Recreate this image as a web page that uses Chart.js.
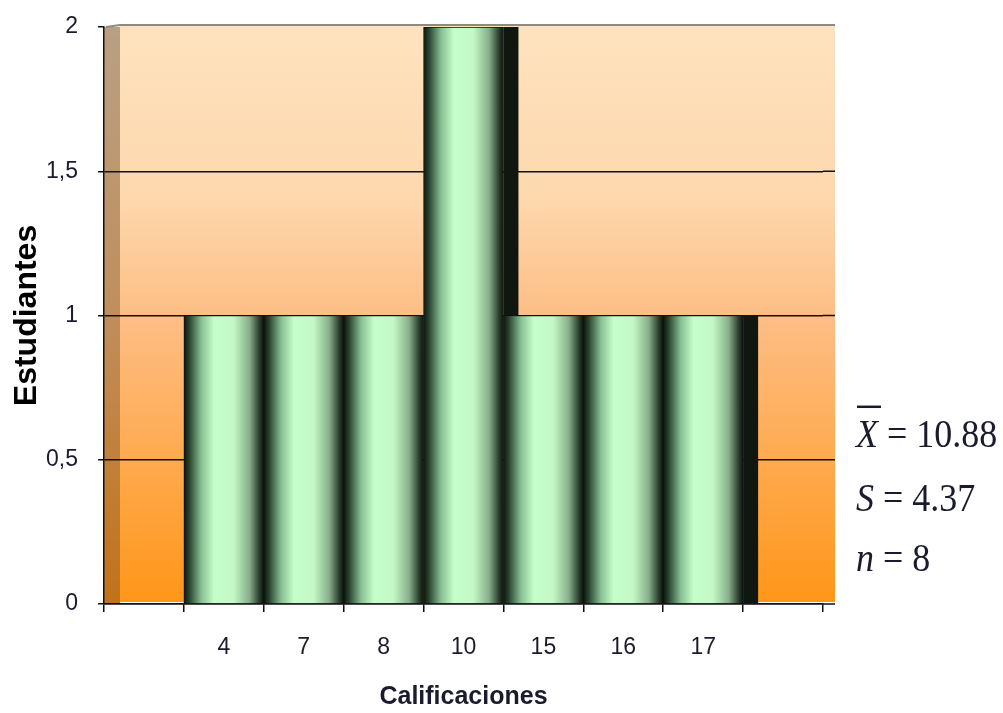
<!DOCTYPE html>
<html>
<head>
<meta charset="utf-8">
<script src="https://cdn.jsdelivr.net/npm/chart.js@4.4.1/dist/chart.umd.min.js"></script>
<style>
  html, body { margin: 0; padding: 0; background: #ffffff; }
  #wrap { width: 1003px; height: 713px; }
</style>
</head>
<body>
<div id="wrap"><canvas id="histChart" width="1003" height="713"></canvas></div>
<script>
// Calificaciones (x) y número de estudiantes (y)
const grades = ["4", "7", "8", "10", "15", "16", "17"];
const students = [1, 1, 1, 2, 1, 1, 1];
// y axis: 0 .. 2 step 0,5
const yMin = 0, yMax = 2, yStep = 0.5;
// summary stats shown at the right
const statNames = ["X", "S", "n"];
const statValues = ["10.88", "4.37", "8"];

// empty slot at each end, like the original
const labels = ["", ...grades, ""];
const values = [null, ...students, null];

const textColor = "#1b1b2e";

// back wall + side wall of the 3d plot area
const wallPlugin = {
    id: "wall",
    beforeDraw(chart) {
        const { ctx, chartArea: ca } = chart;
        if (!ca) return;
        const depth = 16;
        // back wall
        let g = ctx.createLinearGradient(0, ca.top, 0, ca.bottom);
        g.addColorStop(0, "#fee2bf");
        g.addColorStop(0.3, "#fdd8ad");
        g.addColorStop(0.5, "#fdbe86");
        g.addColorStop(1, "#ff9618");
        ctx.save();
        ctx.fillStyle = g;
        ctx.fillRect(ca.left + depth, ca.top - 2, ca.right + 12 - ca.left - depth, ca.bottom - ca.top);
        // side wall
        g = ctx.createLinearGradient(0, ca.top, 0, ca.bottom);
        g.addColorStop(0, "#b9a084");
        g.addColorStop(0.5, "#c08e5c");
        g.addColorStop(1, "#c27218");
        ctx.fillStyle = g;
        ctx.fillRect(ca.left, ca.top, depth, ca.bottom - ca.top);
        // top edge of wall
        ctx.strokeStyle = "#8d8a82";
        ctx.lineWidth = 2;
        ctx.beginPath();
        ctx.moveTo(ca.left + 2, ca.top);
        ctx.lineTo(ca.left + depth, ca.top - 2);
        ctx.lineTo(ca.right + 12, ca.top - 2);
        ctx.stroke();
        ctx.restore();
    },
    beforeDatasetsDraw(chart) {
        // grid lines continue on the back wall past the axis end
        const { ctx, chartArea: ca, scales } = chart;
        ctx.save();
        ctx.strokeStyle = "#111111";
        ctx.lineWidth = 1.5;
        scales.y.ticks.forEach(t => {
            if (t.value === yMax) return;
            const y = scales.y.getPixelForValue(t.value);
            ctx.beginPath();
            ctx.moveTo(ca.right, y);
            ctx.lineTo(ca.right + 12, y);
            ctx.stroke();
        });
        ctx.restore();
    },
    afterDatasetsDraw(chart) {
        // dark depth face on the right of a bar when the next one is lower
        const { ctx, scales } = chart;
        const meta = chart.getDatasetMeta(0);
        ctx.save();
        ctx.fillStyle = "#101710";
        meta.data.forEach((bar, i) => {
            const v = values[i];
            if (v == null) return;
            const next = values[i + 1];
            if (next != null && next >= v) return;
            const right = bar.x + bar.width / 2;
            const bottom = scales.y.getPixelForValue(next == null ? 0 : next);
            ctx.fillRect(right, bar.y, 15, bottom - bar.y);
        });
        ctx.restore();
    }
};

// mean / sd / n text block
const statsPlugin = {
    id: "stats",
    afterDraw(chart) {
        const ctx = chart.ctx;
        const x0 = 856;
        const baselines = [447, 511, 571];
        ctx.save();
        ctx.fillStyle = textColor;
        ctx.textBaseline = "alphabetic";
        statNames.forEach((name, i) => {
            ctx.save();
            ctx.translate(x0, baselines[i]);
            ctx.scale(1, 1.12);
            ctx.font = "italic 36px 'Liberation Serif', 'DejaVu Serif', serif";
            ctx.fillText(name, 0, 0);
            const w = ctx.measureText(name).width;
            ctx.font = "36px 'Liberation Serif', 'DejaVu Serif', serif";
            ctx.fillText(" = " + statValues[i], w, 0);
            if (i === 0) {
                // bar over X (mean)
                ctx.fillRect(1, -37, w + 2, 2.2);
            }
            ctx.restore();
        });
        ctx.restore();
    }
};

function barGradient(c) {
    const chart = c.chart;
    const xs = chart.scales.x;
    if (!xs || c.type !== "data") return "#c4f7c6";
    const w = xs.getPixelForValue(1) - xs.getPixelForValue(0);
    const cx = xs.getPixelForValue(c.dataIndex);
    if (!isFinite(w) || !isFinite(cx) || w <= 0) return "#c4f7c6";
    const g = chart.ctx.createLinearGradient(cx - w / 2, 0, cx + w / 2, 0);
    g.addColorStop(0, "#0b140d");
    g.addColorStop(0.07, "#2a4632");
    g.addColorStop(0.22, "#88c094");
    g.addColorStop(0.38, "#c6fdca");
    g.addColorStop(0.62, "#c4f9c6");
    g.addColorStop(0.82, "#86ae8a");
    g.addColorStop(0.95, "#27382a");
    g.addColorStop(1, "#0b140d");
    return g;
}

new Chart(document.getElementById("histChart"), {
    type: "bar",
    data: {
        labels: labels,
        datasets: [{
            label: "Estudiantes",
            data: values,
            barPercentage: 1,
            categoryPercentage: 1,
            borderWidth: 1,
            borderColor: "#0c140d",
            backgroundColor: barGradient
        }]
    },
    options: {
        responsive: false,
        animation: false,
        layout: { padding: { left: 0, right: 180, top: 27, bottom: 0 } },
        plugins: {
            legend: { display: false },
            tooltip: { enabled: false }
        },
        scales: {
            x: {
                offset: true,
                grid: {
                    offset: true,
                    drawOnChartArea: false,
                    drawTicks: true,
                    tickLength: 8,
                    color: "#111111",
                    lineWidth: 1.5
                },
                border: { color: "#111111", width: 1.5 },
                ticks: {
                    color: textColor,
                    padding: 22,
                    font: { family: "'Liberation Sans', Arial, sans-serif", size: 23 }
                },
                title: {
                    display: true,
                    text: "Calificaciones",
                    color: textColor,
                    padding: { top: 0, bottom: 1 },
                    font: { family: "'Liberation Sans', Arial, sans-serif", size: 25, weight: "bold" }
                },
                afterFit: (s) => { s.height = 109; }
            },
            y: {
                min: yMin,
                max: yMax,
                grid: {
                    color: (c) => (c.tick && c.tick.value === yMax) ? "rgba(0,0,0,0)" : "#111111",
                    tickColor: "#111111",
                    lineWidth: 1.5,
                    tickLength: 6
                },
                border: { color: "#111111", width: 1.5 },
                ticks: {
                    stepSize: yStep,
                    color: textColor,
                    padding: 20,
                    font: { family: "'Liberation Sans', Arial, sans-serif", size: 23 },
                    callback: (v) => String(v).replace(".", ",")
                },
                title: {
                    display: true,
                    text: "Estudiantes",
                    color: "#000000",
                    padding: { top: 8, bottom: 0 },
                    font: { family: "'Liberation Sans', Arial, sans-serif", size: 32, weight: "bold" }
                },
                afterFit: (s) => {
                    s.width = 104;
                    s.paddingTop = 0;
                    s.paddingBottom = 0;
                }
            }
        }
    },
    plugins: [wallPlugin, statsPlugin]
});
</script>
</body>
</html>
